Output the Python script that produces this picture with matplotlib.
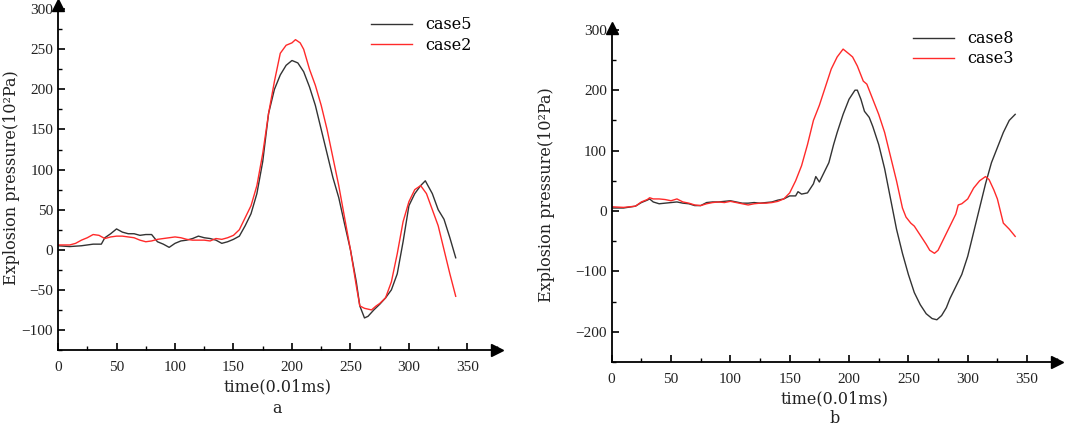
import matplotlib
matplotlib.use("Agg")
import matplotlib.pyplot as plt
from matplotlib.ticker import MultipleLocator

plt.rcParams['font.family'] = ['Liberation Serif', 'DejaVu Serif']
LABEL_FONT = ['DejaVu Serif']

# panel a
t5 = [0, 10, 20, 30, 37, 40, 45, 50, 55, 60, 65, 70, 75, 80, 85, 90, 95, 100,
      105, 110, 115, 120, 125, 130, 135, 140, 145, 150, 155, 160, 165, 170, 175,
      180, 185, 190, 195, 200, 205, 210, 215, 220, 225, 230, 235, 240, 245, 250,
      255, 258, 262, 265, 270, 275, 280, 285, 290, 295, 300, 305, 310, 314, 320,
      325, 330, 335, 340]
case5 = [5, 4, 5, 7, 7, 15, 20, 26, 22, 20, 20, 18, 19, 19, 10, 7, 3, 8,
         11, 12, 14, 17, 15, 14, 12, 8, 10, 13, 17, 30, 45, 70, 110,
         170, 200, 218, 230, 236, 233, 222, 203, 180, 150, 120, 90, 65, 32, 0,
         -40, -70, -85, -83, -75, -68, -60, -50, -30, 10, 55, 70, 80, 86, 70,
         50, 38, 15, -10]

t2 = [0, 10, 15, 20, 25, 30, 35, 40, 45, 50, 55, 60, 65, 70, 75, 80, 85, 90,
      95, 100, 105, 110, 115, 120, 125, 130, 135, 140, 145, 150, 155, 160, 165,
      170, 175, 180, 185, 190, 195, 200, 203, 207, 210, 215, 220, 225, 230, 235,
      240, 245, 250, 255, 258, 262, 265, 268, 272, 275, 280, 285, 290, 295, 300,
      305, 310, 315, 320, 325, 330, 335, 340]
case2 = [6, 6, 8, 12, 15, 19, 18, 14, 16, 17, 17, 16, 15, 12, 10, 11, 13, 14,
         15, 16, 15, 13, 12, 12, 12, 11, 14, 13, 15, 18, 25, 40, 55,
         80, 120, 170, 210, 245, 255, 258, 262, 258, 250, 225, 205, 180, 150, 115,
         80, 40, 0, -45, -70, -73, -74, -75, -70, -67, -60, -40, -5, 35, 60,
         75, 80, 70, 50, 30, 0, -30, -58]

# panel b
t8 = [0, 10, 20, 25, 30, 32, 35, 40, 45, 50, 55, 60, 65, 70, 75, 80, 85, 90,
      95, 100, 105, 110, 115, 120, 125, 130, 135, 140, 145, 150, 155, 157, 160,
      165, 170, 172, 175, 178, 183, 187, 190, 195, 200, 205, 207, 210, 213, 217,
      220, 225, 230, 235, 240, 245, 250, 255, 260, 265, 270, 274, 278, 282, 285,
      290, 295, 300, 305, 310, 315, 320, 325, 330, 335, 340]
case8 = [5, 5, 8, 14, 18, 20, 15, 12, 13, 14, 15, 13, 12, 9, 9, 14, 15, 15,
         16, 17, 15, 13, 13, 14, 13, 14, 15, 18, 20, 25, 25, 32, 28,
         30, 45, 57, 48, 60, 80, 110, 130, 160, 185, 200, 200, 185, 165, 155,
         140, 110, 70, 20, -30, -70, -105, -135, -155, -170, -178, -180, -173, -160, -145,
         -125, -105, -75, -35, 5, 45, 80, 105, 130, 150, 160]

t3 = [0, 10, 20, 25, 30, 32, 35, 40, 45, 50, 55, 60, 65, 70, 75, 80, 85, 90,
      95, 100, 105, 110, 115, 120, 125, 130, 135, 140, 145, 150, 155, 160, 165,
      170, 175, 180, 185, 190, 195, 200, 203, 207, 212, 215, 220, 225, 230, 235,
      240, 245, 248, 252, 255, 260, 265, 268, 272, 275, 280, 285, 290, 292, 295,
      300, 305, 310, 315, 318, 322, 325, 330, 335, 340]
case3 = [7, 6, 8, 15, 19, 22, 20, 20, 19, 17, 20, 15, 13, 10, 9, 12, 14, 15,
         14, 16, 14, 12, 10, 12, 13, 13, 14, 16, 20, 30, 50, 75, 110,
         150, 175, 205, 235, 255, 268, 260, 255, 240, 215, 210, 185, 160, 130, 90,
         50, 5, -10, -20, -25, -40, -55, -65, -70, -65, -45, -25, -5, 10, 12,
         20, 38, 50, 57, 52, 35, 20, -20, -30, -42]

x_ticks = [0, 50, 100, 150, 200, 250, 300, 350]
BLACK = '#333333'
RED = '#ff2a2a'

fig = plt.figure(figsize=(10.75, 4.3), dpi=100)
ax1 = fig.add_axes([0.054, 0.186, 0.408, 0.802])
ax2 = fig.add_axes([0.569, 0.158, 0.414, 0.777])


def style_axis(ax, ylim, ymajor, letter, ylab_x, leg_anchor):
    ax.set_xlim(0, 375)
    ax.set_ylim(*ylim)
    ax.spines['top'].set_visible(False)
    ax.spines['right'].set_visible(False)
    for s in ('left', 'bottom'):
        ax.spines[s].set_linewidth(1.3)
    ax.set_xticks(x_ticks)
    ax.xaxis.set_minor_locator(MultipleLocator(25))
    ax.yaxis.set_major_locator(MultipleLocator(ymajor))
    ax.yaxis.set_minor_locator(MultipleLocator(ymajor / 2))
    ax.tick_params(which='major', direction='in', length=5, width=1.2,
                   labelsize=11, colors='black', labelcolor='#222222')
    ax.tick_params(which='minor', direction='in', length=3, width=1.0)
    ax.tick_params(axis='x', pad=8)
    # arrow heads at the axis ends
    ax.plot(1, 0, '>k', markersize=9, transform=ax.transAxes, clip_on=False)
    ax.plot(0, 1, '^k', markersize=9, transform=ax.transAxes, clip_on=False)
    ax.set_xlabel('time(0.01ms)', fontsize=11.5, labelpad=3, color='#222222',
                  family=LABEL_FONT)
    ax.set_ylabel('Explosion pressure(10²Pa)', fontsize=11.5,
                  color='#222222', family=LABEL_FONT, va='center')
    ax.yaxis.set_label_coords(ylab_x, 0.5)
    ax.text(0.5, -0.17, letter, transform=ax.transAxes, ha='center',
            va='center', fontsize=11.5, color='#222222', family=LABEL_FONT)
    ax.legend(loc='upper right', bbox_to_anchor=leg_anchor, frameon=False,
              prop={'family': LABEL_FONT, 'size': 11.5}, handlelength=2.6,
              handletextpad=0.8, labelspacing=0.2, borderaxespad=0.3)


ax1.plot(t5, case5, color=BLACK, lw=1.0, label='case5')
ax1.plot(t2, case2, color=RED, lw=1.0, label='case2')
style_axis(ax1, (-125, 305), 50, 'a', -0.105, (0.968, 1.0))
ax1.set_yticks([-100, -50, 0, 50, 100, 150, 200, 250, 300])

ax2.plot(t8, case8, color=BLACK, lw=1.0, label='case8')
ax2.plot(t3, case3, color=RED, lw=1.0, label='case3')
style_axis(ax2, (-250, 303), 100, 'b', -0.146, (0.928, 1.027))
ax2.set_yticks([-200, -100, 0, 100, 200, 300])

fig.savefig('out.png', dpi=100)
